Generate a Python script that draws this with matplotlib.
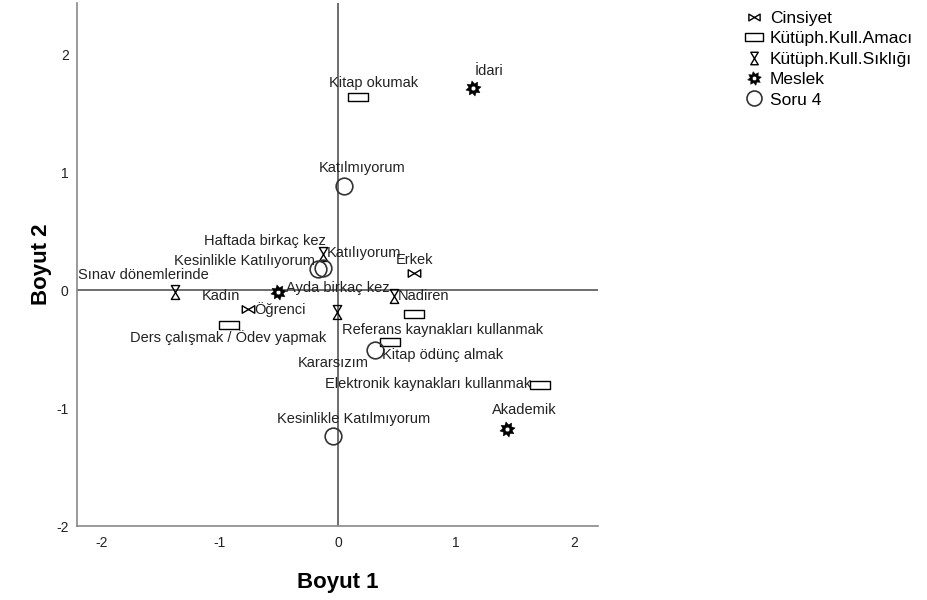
import numpy as np
import matplotlib
matplotlib.use("Agg")
import matplotlib.pyplot as plt
from matplotlib.path import Path
from matplotlib.lines import Line2D

plt.rcParams['font.family'] = ['Liberation Sans', 'DejaVu Sans']
plt.rcParams['axes.unicode_minus'] = False

# ---- data (category quantifications) ----
cinsiyet_labels = ["Erkek", "Kadın"]
cinsiyet_x = [0.64, -0.76]
cinsiyet_y = [0.15, -0.16]

amac_labels = ["Kitap okumak", "Ders çalışmak / Ödev yapmak", "Referans kaynakları kullanmak",
               "Kitap ödünç almak", "Elektronik kaynakları kullanmak"]
amac_x = [0.17, -0.92, 0.64, 0.44, 1.71]
amac_y = [1.64, -0.29, -0.20, -0.44, -0.80]

siklik_labels = ["Sınav dönemlerinde", "Haftada birkaç kez", "Ayda birkaç kez", "Nadiren"]
siklik_x = [-1.38, -0.13, -0.01, 0.47]
siklik_y = [-0.01, 0.31, -0.18, -0.05]

meslek_labels = ["İdari", "Akademik", "Öğrenci"]
meslek_x = [1.14, 1.43, -0.51]
meslek_y = [1.72, -1.18, -0.01]

soru_labels = ["Katılmıyorum", "Kesinlikle Katılıyorum", "Katılıyorum", "Kararsızım", "Kesinlikle Katılmıyorum"]
soru_x = [0.05, -0.17, -0.13, 0.31, -0.04]
soru_y = [0.89, 0.18, 0.19, -0.51, -1.24]

legend_names = ["Cinsiyet", "Kütüph.Kull.Amacı", "Kütüph.Kull.Sıklığı", "Meslek", "Soru 4"]
x_ticks = [-2, -1, 0, 1, 2]
y_ticks = [-2, -1, 0, 1, 2]

# ---- label offsets in pixels (style) ----
off_cins = [(1, 13), (-27, 13)]
off_amac = [(15, 14), (-1, -13), (29, -16), (52, -13), (-112, 1)]
off_sik = [(-32, 17), (-58, 13), (1, 24), (30, 0)]
off_mes = [(16, 17), (17, 19), (2, -18)]
off_soru = [(18, 18), (-74, 8), (41, 15), (-41, -13), (20, 17)]

# ---- custom markers ----
bowtie = Path([(-1, -0.6), (1, 0.6), (1, -0.6), (-1, 0.6), (-1, -0.6)],
              [Path.MOVETO, Path.LINETO, Path.LINETO, Path.LINETO, Path.CLOSEPOLY])
hourglass = Path([(-0.6, 1), (0.6, 1), (-0.6, -1), (0.6, -1), (-0.6, 1)],
                 [Path.MOVETO, Path.LINETO, Path.LINETO, Path.LINETO, Path.CLOSEPOLY])
rect = Path([(-1, -0.45), (1, -0.45), (1, 0.45), (-1, 0.45), (-1, -0.45)],
            [Path.MOVETO, Path.LINETO, Path.LINETO, Path.LINETO, Path.CLOSEPOLY])
ang = np.linspace(0, 2 * np.pi, 17)[:-1] + np.pi / 16
rad = np.where(np.arange(16) % 2 == 0, 1.0, 0.62)
sv = np.column_stack([rad * np.cos(ang), rad * np.sin(ang)])
star_outer = Path(np.vstack([sv, sv[:1]]), [Path.MOVETO] + [Path.LINETO] * 15 + [Path.CLOSEPOLY])
ha_ = np.linspace(0, 2 * np.pi, 25)[:-1][::-1]
hv = np.column_stack([0.3 * np.cos(ha_), 0.3 * np.sin(ha_)])
hole = Path(np.vstack([hv, hv[:1]]), [Path.MOVETO] + [Path.LINETO] * 23 + [Path.CLOSEPOLY])
star = Path.make_compound_path(star_outer, hole)

fig = plt.figure(figsize=(9.27, 6.0), dpi=100)
ax = fig.add_axes([77 / 927, 74 / 600, 521 / 927, 523 / 600])

ax.set_xlim(-2.21, 2.20)
ax.set_ylim(-2.0, 2.44)
ax.axhline(0, color='#555555', lw=1.2, zorder=1)
ax.axvline(0, color='#555555', lw=1.2, zorder=1)

series = [
    (cinsiyet_x, cinsiyet_y, cinsiyet_labels, off_cins, dict(marker=bowtie, ms=9, mfc='none', mec='black', mew=1.0)),
    (amac_x, amac_y, amac_labels, off_amac, dict(marker=rect, ms=14, mfc='none', mec='black', mew=1.0)),
    (siklik_x, siklik_y, siklik_labels, off_sik, dict(marker=hourglass, ms=10, mfc='none', mec='black', mew=1.0)),
    (meslek_x, meslek_y, meslek_labels, off_mes, dict(marker=star, ms=11, mfc='black', mec='black', mew=0.3)),
    (soru_x, soru_y, soru_labels, off_soru, dict(marker='o', ms=12, mfc='none', mec='#333333', mew=1.2)),
]

handles = []
for xs, ys, labs, offs, st in series:
    ax.plot(xs, ys, ls='none', zorder=3, **st)
    for x, y, lab, (dx, dy) in zip(xs, ys, labs, offs):
        ax.annotate(lab, (x, y), xytext=(dx, dy), textcoords='offset pixels',
                    ha='center', va='center', fontsize=10.5, color='#222222', zorder=4)
    hst = dict(st)
    hst['ms'] = st['ms'] * 0.9
    handles.append(Line2D([], [], ls='none', **hst))

for s in ['top', 'right']:
    ax.spines[s].set_visible(False)
for s in ['left', 'bottom']:
    ax.spines[s].set_color('#888888')
    ax.spines[s].set_linewidth(1.2)

ax.set_xticks(x_ticks)
ax.set_yticks(y_ticks)
ax.tick_params(length=0, labelsize=10, colors='#222222')
ax.tick_params(axis='x', pad=7)
ax.tick_params(axis='y', pad=6)
ax.set_xlabel("Boyut 1", fontsize=16, fontweight='bold', labelpad=16)
ax.set_ylabel("Boyut 2", fontsize=16, fontweight='bold', labelpad=3)

fig.legend(handles, legend_names, loc='upper left', bbox_to_anchor=(738 / 927, 1 - 4 / 600),
           frameon=False, fontsize=12.5, handlelength=1.0, handletextpad=0.45,
           labelspacing=0.3, borderaxespad=0)

fig.savefig("out.png", dpi=100)
